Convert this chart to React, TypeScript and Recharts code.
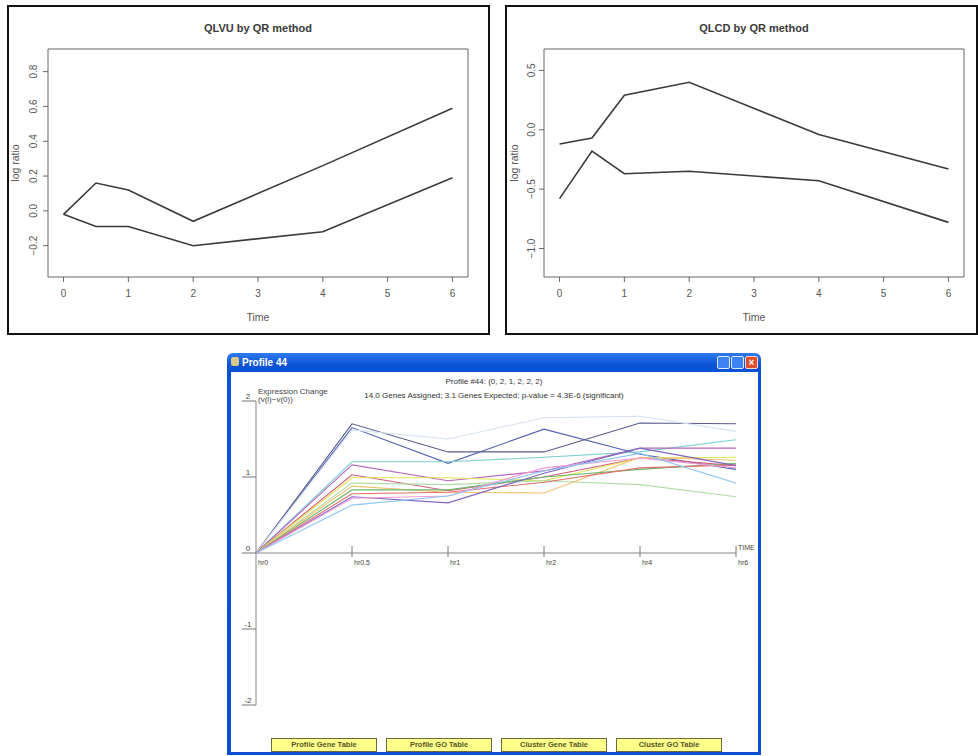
import React from 'react';
import { LineChart, Line, XAxis, YAxis, ReferenceArea, ComposedChart } from 'recharts';

// ---------- top panels (R style) ----------
const times = [0, 0.5, 1, 2, 4, 6];
const timeTicks = [0, 1, 2, 3, 4, 5, 6];
const qlvuUpper = [-0.02, 0.16, 0.12, -0.06, 0.26, 0.59];
const qlvuLower = [-0.02, -0.09, -0.09, -0.2, -0.12, 0.19];
const qlvuYTicks = [-0.2, 0, 0.2, 0.4, 0.6, 0.8];
const qlcdUpper = [-0.12, -0.07, 0.29, 0.4, -0.04, -0.33];
const qlcdLower = [-0.58, -0.18, -0.37, -0.35, -0.43, -0.78];
const qlcdYTicks = [-1.0, -0.5, 0, 0.5];

// ---------- bottom panel (profile window) ----------
const hours = ['hr0', 'hr0.5', 'hr1', 'hr2', 'hr4', 'hr6'];
const exprYTicks = [-2, -1, 0, 1, 2];
const geneNames = ['g1', 'g2', 'g3', 'g4', 'g5', 'g6', 'g7', 'g8', 'g9', 'g10', 'g11', 'g12', 'g13', 'g14'];
const geneColors = ['#5a5a8c', '#5060b0', '#d6e2ee', '#7cd0d0', '#b468bc', '#d45a78', '#e2e250', '#b0dca8', '#f2c070', '#6cb86c', '#e26c6c', '#8064c4', '#f29cd6', '#8cc6f0'];
const g1 = [0, 1.70, 1.33, 1.33, 1.71, 1.70];
const g2 = [0, 1.65, 1.18, 1.63, 1.30, 1.10];
const g3 = [0, 1.62, 1.50, 1.78, 1.80, 1.60];
const g4 = [0, 1.20, 1.20, 1.26, 1.33, 1.49];
const g5 = [0, 1.16, 0.95, 1.08, 1.38, 1.38];
const g6 = [0, 1.03, 0.82, 1.00, 1.25, 1.15];
const g7 = [0, 0.99, 0.99, 0.95, 1.25, 1.26];
const g8 = [0, 0.92, 0.90, 0.95, 0.90, 0.74];
const g9 = [0, 0.88, 0.80, 0.79, 1.26, 1.22];
const g10 = [0, 0.83, 0.83, 1.00, 1.10, 1.18];
const g11 = [0, 0.78, 0.80, 0.93, 1.12, 1.16];
const g12 = [0, 0.74, 0.66, 1.05, 1.38, 1.15];
const g13 = [0, 0.72, 0.75, 1.12, 1.25, 1.12];
const g14 = [0, 0.63, 0.75, 1.08, 1.31, 0.92];
const geneValues = [g1, g2, g3, g4, g5, g6, g7, g8, g9, g10, g11, g12, g13, g14];
const buttonLabels = ['Profile Gene Table', 'Profile GO Table', 'Cluster Gene Table', 'Cluster GO Table'];

const FONT = '"Liberation Sans", Arial, sans-serif';

const fmt1 = (v: number) => {
  const s = Math.abs(v).toFixed(1);
  return v < 0 ? '\u2212' + s : s;
};

const RotTick = (props: any) => {
  const { x, y, payload } = props;
  return (
    <text x={x} y={y} transform={`rotate(-90 ${x} ${y})`} textAnchor="middle" fontSize={10} fill="#555" stroke="none" fontFamily={FONT}>
      {fmt1(payload.value)}
    </text>
  );
};

function RPlot(props: any) {
  const { left, width, title, upper, lower, yDomain, yTicks, yAxisW, rightM, tickM, labelDx } = props;
  const data = times.map((t, i) => ({ t, upper: upper[i], lower: lower[i] }));
  const chartW = width - 4;
  const chartH = 326;
  return (
    <div style={{ position: 'absolute', left, top: 5, width, height: 330, border: '2px solid #111', boxSizing: 'border-box', background: '#fff' }}>
      <div style={{ position: 'absolute', left: yAxisW, width: chartW - yAxisW - rightM, top: 15, textAlign: 'center', fontSize: 11, fontWeight: 'bold', color: '#3a3a3a', fontFamily: FONT, lineHeight: '13px' }}>
        {title}
      </div>
      <LineChart width={chartW} height={chartH} data={data} margin={{ top: 42, right: rightM, left: 0, bottom: 0 }} style={{ fontFamily: FONT }}>
        <XAxis
          type="number"
          dataKey="t"
          domain={[-0.24, 6.24]}
          ticks={timeTicks}
          interval={0}
          height={56}
          axisLine={false}
          tickLine={{ stroke: '#666' }}
          tickSize={5}
          tickMargin={8}
          tick={{ fontSize: 10, fill: '#555' }}
          label={{ value: 'Time', position: 'insideBottom', offset: 12, fontSize: 10.5, fill: '#555' }}
        />
        <YAxis
          type="number"
          domain={yDomain}
          ticks={yTicks}
          interval={0}
          width={yAxisW}
          axisLine={false}
          tickLine={{ stroke: '#666' }}
          tickSize={5}
          tickMargin={tickM}
          tick={RotTick}
          label={{ value: 'log ratio', angle: -90, position: 'center', dx: labelDx, fontSize: 10.5, fill: '#555' }}
        />
        <ReferenceArea x1={-0.24} x2={6.24} y1={yDomain[0]} y2={yDomain[1]} fill="none" stroke="#666" strokeWidth={1} ifOverflow="visible" />
        <Line type="linear" dataKey="upper" stroke="#3a3a3a" strokeWidth={1.6} dot={false} activeDot={false} isAnimationActive={false} />
        <Line type="linear" dataKey="lower" stroke="#3a3a3a" strokeWidth={1.6} dot={false} activeDot={false} isAnimationActive={false} />
      </LineChart>
    </div>
  );
}

const ExprTick = (props: any) => {
  const { x, y, payload } = props;
  return (
    <g>
      <line x1={x - 14} y1={y} x2={x} y2={y} stroke="#777" strokeWidth={1} />
      <text x={x - 8} y={y - 2} textAnchor="middle" fontSize={8} fill="#444" stroke="none" fontFamily={FONT}>
        {payload.value}
      </text>
    </g>
  );
};

const TimeTickDot = (props: any) => {
  const { cx, cy, index, payload } = props;
  return (
    <g key={`tm-${index}`}>
      {index > 0 && <line x1={cx} y1={cy - 7} x2={cx} y2={cy + 4} stroke="#777" strokeWidth={1} />}
      <text x={cx + 2} y={cy + 12} fontSize={7} fill="#444" stroke="none" fontFamily={FONT}>
        {payload.t}
      </text>
      {index === hours.length - 1 && (
        <text x={cx + 2} y={cy - 3} fontSize={7} fill="#444" stroke="none" fontFamily={FONT}>
          TIME
        </text>
      )}
    </g>
  );
};

function ProfileWindow() {
  const data = hours.map((t, i) => {
    const row: any = { t, axis: 0 };
    geneNames.forEach((g, k) => {
      row[g] = geneValues[k][i];
    });
    return row;
  });
  const btnLeft = [271, 386, 501, 616];
  return (
    <>
      <div style={{ position: 'absolute', left: 227, top: 353, width: 534, height: 402, background: 'linear-gradient(#2f7cf0, #0a52d6 12px, #0a4fd0)', borderRadius: '6px 6px 0 0' }} />
      <div style={{ position: 'absolute', left: 231, top: 357, width: 8, height: 9, background: '#d9c98a', borderRadius: 2 }} />
      <div style={{ position: 'absolute', left: 242, top: 356, fontSize: 10, fontWeight: 'bold', color: '#fff', fontFamily: FONT, lineHeight: '13px' }}>Profile 44</div>
      <div style={{ position: 'absolute', left: 717, top: 356, width: 13, height: 13, background: '#3d84f2', border: '1px solid #dfe9fb', boxSizing: 'border-box', borderRadius: 2 }} />
      <div style={{ position: 'absolute', left: 731, top: 356, width: 13, height: 13, background: '#3d84f2', border: '1px solid #dfe9fb', boxSizing: 'border-box', borderRadius: 2 }} />
      <div style={{ position: 'absolute', left: 745, top: 356, width: 13, height: 13, background: '#e0502c', border: '1px solid #f5d4c8', boxSizing: 'border-box', borderRadius: 2, color: '#fff', fontSize: 10, lineHeight: '11px', textAlign: 'center', fontFamily: FONT, fontWeight: 'bold' }}>×</div>
      <div style={{ position: 'absolute', left: 231, top: 372, width: 527, height: 380, background: '#fff' }} />
      <div style={{ position: 'absolute', left: 230, top: 377, width: 528, textAlign: 'center', fontSize: 8, color: '#333', fontFamily: FONT, lineHeight: '10px' }}>
        Profile #44: (0, 2, 1, 2, 2, 2)
      </div>
      <div style={{ position: 'absolute', left: 230, top: 391, width: 528, textAlign: 'center', fontSize: 8, color: '#333', fontFamily: FONT, lineHeight: '10px' }}>
        14.0 Genes Assigned; 3.1 Genes Expected; p-value = 4.3E-6 (significant)
      </div>
      <div style={{ position: 'absolute', left: 258, top: 388, fontSize: 8, color: '#444', fontFamily: FONT, lineHeight: '8px' }}>
        Expression Change
        <br />
        (v(i)−v(0))
      </div>
      <div style={{ position: 'absolute', left: 230, top: 372 }}>
        <ComposedChart width={528} height={340} data={data} margin={{ top: 29, right: 22, left: 0, bottom: 7 }} style={{ fontFamily: FONT }}>
          <XAxis dataKey="t" type="category" scale="point" hide />
          <YAxis
            type="number"
            domain={[-2, 2]}
            ticks={exprYTicks}
            interval={0}
            width={26}
            axisLine={{ stroke: '#888' }}
            tickLine={false}
            tickSize={0}
            tickMargin={0}
            tick={ExprTick}
          />
          <Line type="linear" dataKey="axis" stroke="#888" strokeWidth={1} dot={TimeTickDot} activeDot={false} isAnimationActive={false} />
          {geneNames.map((g, k) => (
            <Line key={g} type="linear" dataKey={g} stroke={geneColors[k]} strokeWidth={1.1} dot={false} activeDot={false} isAnimationActive={false} />
          ))}
        </ComposedChart>
      </div>
      {buttonLabels.map((b, i) => (
        <div key={b} style={{ position: 'absolute', left: btnLeft[i], top: 738, width: 106, height: 14, background: '#ffff8c', border: '1px solid #6b6b3a', boxSizing: 'border-box', fontSize: 7.5, fontWeight: 'bold', color: '#55551f', textAlign: 'center', lineHeight: '12px', fontFamily: FONT }}>
          {b}
        </div>
      ))}
    </>
  );
}

export default function App() {
  return (
    <div style={{ position: 'absolute', left: 0, top: 0, width: 978, height: 756, background: '#fff', overflow: 'hidden' }}>
      <RPlot left={7} width={483} title="QLVU by QR method" upper={qlvuUpper} lower={qlvuLower} yDomain={[-0.38, 0.93]} yTicks={qlvuYTicks} yAxisW={39} rightM={20} tickM={6} labelDx={-13.5} />
      <RPlot left={505} width={473} title="QLCD by QR method" upper={qlcdUpper} lower={qlcdLower} yDomain={[-1.24, 0.68]} yTicks={qlcdYTicks} yAxisW={37} rightM={12} tickM={4} labelDx={-11.5} />
      <ProfileWindow />
    </div>
  );
}
